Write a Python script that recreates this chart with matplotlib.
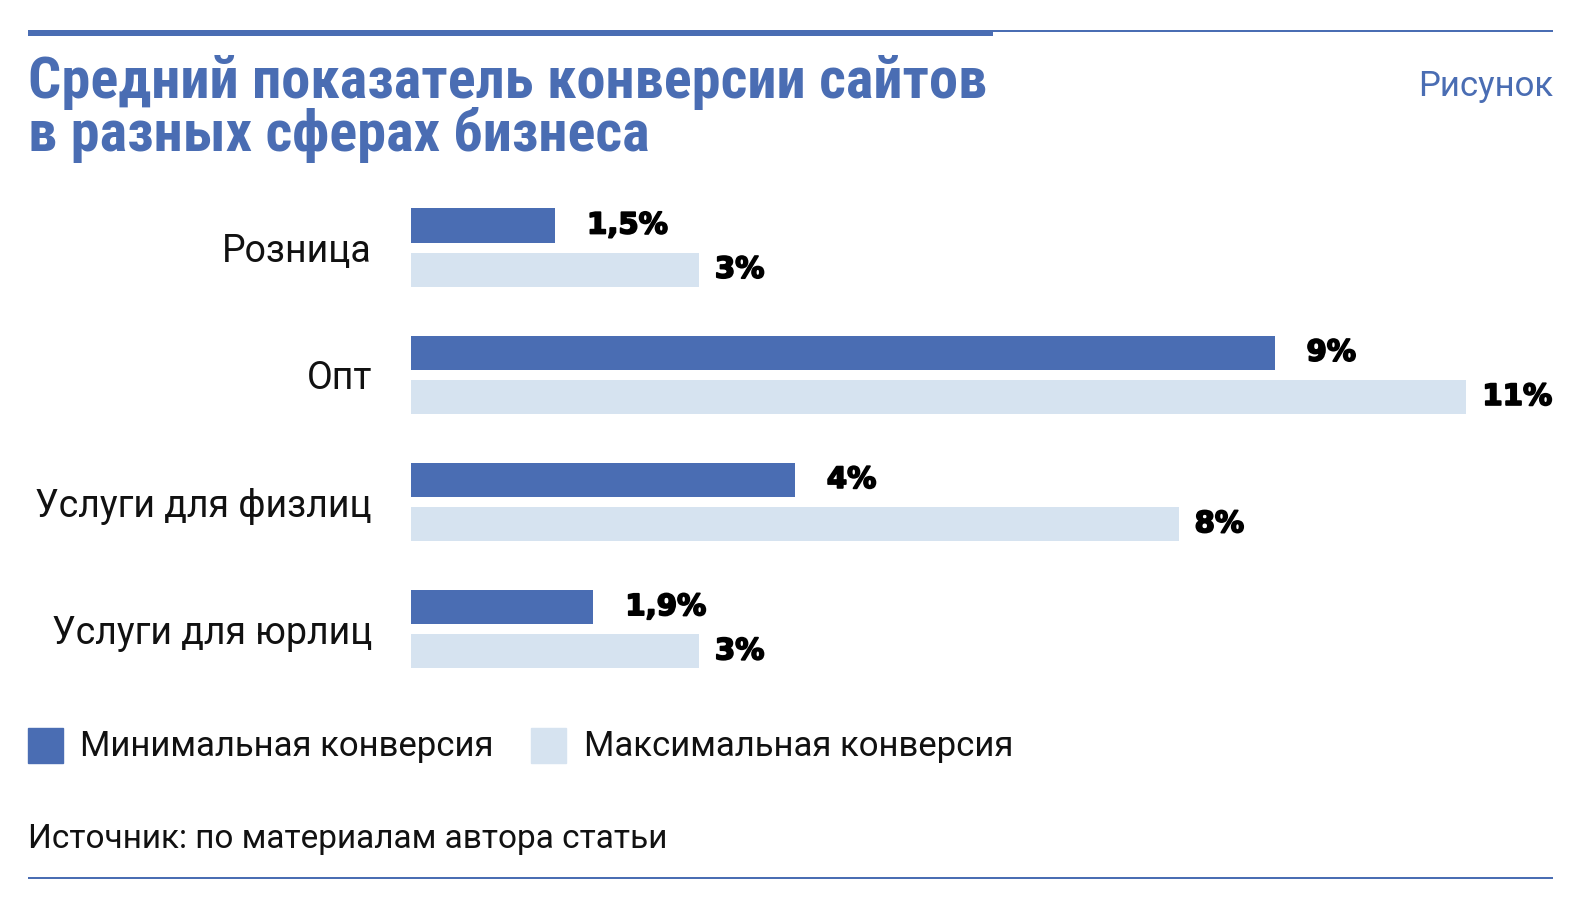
import matplotlib
matplotlib.use("Agg")
import matplotlib.pyplot as plt
from matplotlib.lines import Line2D
from matplotlib.patches import Rectangle
from matplotlib import font_manager
import matplotlib.patheffects as pe

categories = ["Розница", "Опт", "Услуги для физлиц", "Услуги для юрлиц"]
min_conv = [1.5, 9, 4, 1.9]
max_conv = [3, 11, 8, 3]
min_labels = ["1,5%", "9%", "4%", "1,9%"]
max_labels = ["3%", "11%", "8%", "3%"]
series_names = ["Минимальная конверсия", "Максимальная конверсия"]
title = "Средний показатель конверсии сайтов\nв разных сферах бизнеса"
source = "Источник: по материалам автора статьи"

DARK = "#4a6db3"
LIGHT = "#d6e3f0"
TITLE_C = "#4a6db3"

avail = {f.name for f in font_manager.fontManager.ttflist}
def fam(names):
    return [f for f in names if f in avail] + ["DejaVu Sans"]
COND = fam(["Roboto Condensed", "Liberation Sans Narrow", "Roboto"])
BODY = fam(["Roboto", "Noto Sans"])
WIDE = ["DejaVu Sans"]
plt.rcParams['font.family'] = BODY

# layout measured on a 1568x904 view of the 1576x909 canvas
RW, RH = 1568, 904
fig = plt.figure(figsize=(15.76, 9.09), dpi=100)

def fx(px):
    return px / RW

def fy(py):
    return 1 - py / RH

# axes: x 409..1545, y 183..689
ax = fig.add_axes([fx(409), fy(689), fx(1545) - fx(409), fy(183) - fy(689)])
pxu = 126.5
bh = 34 / pxu
off = 22 / pxu
ax.set_xlim(0, (1545 - 409) / 95.45)
ax.set_ylim(len(categories) - 0.5, -0.5)
ys = list(range(len(categories)))
ax.barh([y - off for y in ys], min_conv, height=bh, color=DARK)
ax.barh([y + off for y in ys], max_conv, height=bh, color=LIGHT)
thick = [pe.withStroke(linewidth=1.3, foreground="black")]
for y, v, t in zip(ys, min_conv, min_labels):
    ax.annotate(t, (v, y - off), xytext=(32 * 0.72, 0), textcoords="offset points",
                ha="left", va="center", fontsize=21, fontweight="bold", color="black",
                family=WIDE, path_effects=thick)
for y, v, t in zip(ys, max_conv, max_labels):
    ax.annotate(t, (v, y + off), xytext=(16 * 0.72, 0), textcoords="offset points",
                ha="left", va="center", fontsize=21, fontweight="bold", color="black",
                family=WIDE, path_effects=thick)
ax.set_yticks(ys)
ax.set_yticklabels(categories, fontsize=27, color="#111111")
ax.tick_params(axis="y", length=0, pad=39 * 0.72)
ax.set_xticks([])
for s in ax.spines.values():
    s.set_visible(False)
ax.patch.set_alpha(0)

# decorative lines
fig.add_artist(Line2D([fx(28), fx(988)], [fy(33), fy(33)], color=DARK, lw=6 * 0.72, solid_capstyle="butt"))
fig.add_artist(Line2D([fx(988), fx(1545)], [fy(31), fy(31)], color=DARK, lw=2 * 0.72, solid_capstyle="butt"))
fig.add_artist(Line2D([fx(28), fx(1545)], [fy(873), fy(873)], color=DARK, lw=2 * 0.72, solid_capstyle="butt"))

fig.text(fx(28), fy(150), title, ha="left", va="baseline", fontsize=42, fontweight="bold",
         color=TITLE_C, family=COND, linespacing=0.92)
fig.text(fx(1545), fy(95), "Рисунок", ha="right", va="baseline", fontsize=25, color=TITLE_C)

# legend
fig.add_artist(Rectangle((fx(28), fy(759)), fx(35), fy(724) - fy(759), color=DARK, transform=fig.transFigure))
fig.text(fx(80), fy(742), series_names[0], ha="left", va="center", fontsize=25, color="#111111")
fig.add_artist(Rectangle((fx(528), fy(759)), fx(35), fy(724) - fy(759), color=LIGHT, transform=fig.transFigure))
fig.text(fx(581), fy(742), series_names[1], ha="left", va="center", fontsize=25, color="#111111")

fig.text(fx(28), fy(843), source, ha="left", va="baseline", fontsize=24, color="#111111")

fig.savefig("out.png", dpi=100)
